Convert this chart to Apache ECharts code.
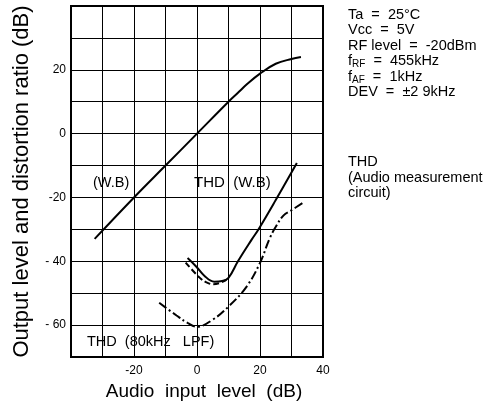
<!DOCTYPE html>
<html><head><meta charset="utf-8">
<script src="https://cdn.jsdelivr.net/npm/echarts@6/dist/echarts.min.js"></script>
<style>html,body{margin:0;padding:0;background:#fff}#c{width:501px;height:405px}</style>
</head><body><div id="c"></div>
<script>
const outputLevel = [[-32.5,-33],[-20,-20],[-10,-10],[0,0],[10,10],[13,12.8],[16,15.6],[20,18.8],[25,21.9],[30,23.4],[33,24]];
const thdWB = [[-3,-39],[-0.2,-41.7],[2.4,-44.6],[5.5,-46.4],[8,-46.2],[10,-45.2],[13,-40],[17.3,-33.3],[19.4,-30.2],[25,-20.8],[31.7,-9.2]];
const thdWBdash = [[-3.6,-40.4],[0.9,-45.2],[3,-46.6],[5.1,-47.2],[7.5,-46.7],[9.3,-45.8]];
const thdLPF = [[-12,-53],[-6.5,-57],[-3,-59.3],[0,-60.5],[5,-58.3],[10,-54.2],[15.7,-48],[20,-40.5],[23,-33],[25,-29.2],[27.5,-25.6],[30,-24],[33.7,-21.6]];
const xTickLabels = {'-20':'-20','0':'0','20':'20','40':'40'};
const yTickLabels = {'20':'20','0':'0','-20':'-20','-40':'- 40','-60':'- 60'};
const conditions = ['Ta  =  25°C','Vcc  =  5V','RF level  =  -20dBm','f{s|RF}  =  455kHz','f{s|AF}  =  1kHz','DEV  =  ±2 9kHz'];
const thdNote = ['THD','(Audio measurement','circuit)'];

const chart = echarts.init(document.getElementById('c'));
const font = 'Liberation Sans, Arial, sans-serif';
const lineSeries = (data, type) => ({
  type:'line', data, smooth:0.4, symbol:'none',
  lineStyle:{color:'#000', width:2, type}
});
const txt = (t, x, cy, size) => ({type:'text', x, y:cy, style:{text:t, fontSize:size, fontFamily:font, fill:'#000', verticalAlign:'middle',
  rich:{s:{fontSize:10, fontFamily:font, fill:'#000', verticalAlign:'bottom', padding:[0,0,-1,0]}}}});
const graphics = [];
conditions.forEach((t,i)=>graphics.push(txt(t, 348, 15+i*15.4, 14.5)));
thdNote.forEach((t,i)=>graphics.push(txt(t, 348, 162+i*15.6, 14.5)));
chart.setOption({
  animation:false,
  grid:{left:71,right:178,top:6,bottom:48,containLabel:false,outerBoundsMode:'none',show:true,borderColor:'#000',borderWidth:2,backgroundColor:'transparent'},
  xAxis:{type:'value',min:-40,max:40,interval:10,
    name:'Audio  input  level  (dB)',nameLocation:'middle',nameGap:25,
    nameTextStyle:{fontSize:19,color:'#000',fontFamily:font,verticalAlign:'top',padding:[0,0,0,14]},
    axisLine:{show:true,onZero:false,lineStyle:{color:'#000',width:2}},axisTick:{show:false},
    axisLabel:{color:'#000',fontSize:12,fontFamily:font,margin:8,formatter:v=>xTickLabels[String(v)]||''},
    splitLine:{show:true,lineStyle:{color:'#000',width:1}}},
  yAxis:{type:'value',min:-70,max:40,interval:10,
    name:'Output level and distortion ratio (dB)',nameLocation:'middle',nameGap:38,nameRotate:90,
    nameTextStyle:{fontSize:22,color:'#000',fontFamily:font},
    axisLine:{show:true,onZero:false,lineStyle:{color:'#000',width:2}},axisTick:{show:false},
    axisLabel:{color:'#000',fontSize:12,fontFamily:font,margin:5,formatter:v=>yTickLabels[String(v)]||''},
    splitLine:{show:true,lineStyle:{color:'#000',width:1}}},
  series:[
    lineSeries(outputLevel,'solid'),
    lineSeries(thdWB,'solid'),
    lineSeries(thdWBdash,[6,3]),
    lineSeries(thdLPF,[9,3,2,3])
  ],
  graphic:[
    txt('(W.B)', 93, 183, 14.5),
    txt('THD  (W.B)', 194, 183, 15),
    txt('THD  (80kHz   LPF)', 87, 342, 14.5),
    ...graphics
  ]
});
</script></body></html>
